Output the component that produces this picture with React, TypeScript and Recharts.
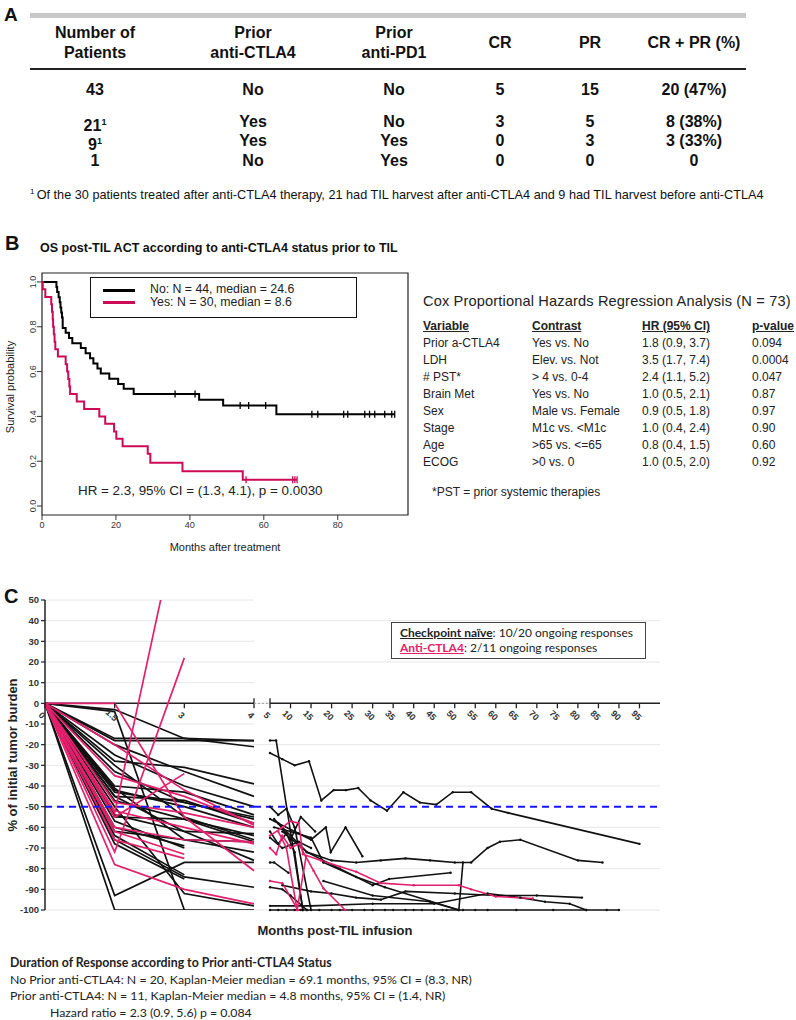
import React from 'react';
import {
  ComposedChart,
  LineChart,
  Line,
  XAxis,
  YAxis,
  CartesianGrid,
  ReferenceLine,
  ReferenceArea,
  ReferenceDot,
} from 'recharts';

// ── Panel A: response table ───────────────────────────────────────────────
const tableHeaders = [['Number of', 'Patients'], ['Prior', 'anti-CTLA4'], ['Prior', 'anti-PD1'], ['CR'], ['PR'], ['CR + PR (%)']];
const patientCounts = ['43', '21', '9', '1'];
const patientFootnoted = [false, true, true, false];
const priorCTLA4 = ['No', 'Yes', 'Yes', 'No'];
const priorPD1 = ['No', 'No', 'Yes', 'Yes'];
const crCounts = ['5', '3', '0', '0'];
const prCounts = ['15', '5', '3', '0'];
const responseRates = ['20 (47%)', '8 (38%)', '3 (33%)', '0'];
const tableFootnote =
  'Of the 30 patients treated after anti-CTLA4 therapy, 21 had TIL harvest after anti-CTLA4 and 9 had TIL harvest before anti-CTLA4';

// ── Panel B: Kaplan-Meier OS ──────────────────────────────────────────────
const noEventTimes = [3.9, 4.1, 4.5, 4.8, 5.0, 5.2, 5.4, 5.6, 6.4, 7.3, 8.2, 10.5, 11.8, 13.0, 13.9, 15.0, 15.9, 18.2, 20.6, 22.1, 24.8, 42.5, 49.0, 63.4];
const noSurvival = [0.977, 0.955, 0.932, 0.909, 0.886, 0.864, 0.841, 0.795, 0.773, 0.75, 0.727, 0.705, 0.682, 0.659, 0.636, 0.614, 0.591, 0.568, 0.545, 0.523, 0.5, 0.474, 0.449, 0.41];
const noCensored = [36, 41.4, 53.6, 55.9, 60.5, 73, 74.6, 81.6, 82.7, 87.3, 88.6, 90, 92.7, 94.6, 95.4];

const yesEventTimes = [0.2, 0.9, 2.5, 2.7, 2.9, 3.0, 3.2, 3.4, 3.6, 4.3, 6.4, 6.8, 7.1, 7.4, 7.6, 9.4, 11.4, 15.5, 17.1, 19.5, 20.1, 21.8, 28.6, 29.3, 38.0, 54.3];
const yesSurvival = [0.967, 0.933, 0.9, 0.867, 0.833, 0.8, 0.767, 0.733, 0.7, 0.667, 0.633, 0.6, 0.567, 0.533, 0.5, 0.467, 0.433, 0.4, 0.367, 0.333, 0.3, 0.267, 0.233, 0.193, 0.155, 0.117];
const yesCensored = [55.2, 67.8, 68.4, 69];

const kmXTicks = [0, 20, 40, 60, 80];
const kmYTicks = [0, 0.2, 0.4, 0.6, 0.8, 1.0];

// Cox regression table
const coxVariables = ['Prior a-CTLA4', 'LDH', '# PST*', 'Brain Met', 'Sex', 'Stage', 'Age', 'ECOG'];
const coxContrasts = ['Yes vs. No', 'Elev. vs. Not', '> 4 vs. 0-4', 'Yes vs. No', 'Male vs. Female', 'M1c vs. <M1c', '>65 vs. <=65', '>0 vs. 0'];
const coxHR = ['1.8 (0.9, 3.7)', '3.5 (1.7, 7.4)', '2.4 (1.1, 5.2)', '1.0 (0.5, 2.1)', '0.9 (0.5, 1.8)', '1.0 (0.4, 2.4)', '0.8 (0.4, 1.5)', '1.0 (0.5, 2.0)'];
const coxP = ['0.094', '0.0004', '0.047', '0.87', '0.97', '0.90', '0.60', '0.92'];

// ── Panel C: spider plot ──────────────────────────────────────────────────
// early visits (0, 1.5, 3, 4 months), equally spaced
const earlyLabels = ['0', '1.5', '3', '4'];
const naiveEarly: (number | null)[][] = [
  [0, -3, -17, -18],
  [0, -18, -18, -18],
  [0, -17, -17, -21],
  [0, -28, -31, -39],
  [0, -20, -33, -45],
  [0, -4, -100, null],
  [0, -40, -43, -54],
  [0, -45, -47, -58],
  [0, -42, -50, -60],
  [0, -47, -56, -64],
  [0, -55, -56, -67],
  [0, -30, -55, -66],
  [0, -62, -66, -67],
  [0, -60, -69, null],
  [0, -57, -70, null],
  [0, -93, -77, -77],
  [0, -66, -84, -89],
  [0, -68, -85, null],
  [0, -64, -83, null],
  [0, -100, -100, -100],
  [0, -50, -92, -98],
  [0, -45, -62, -76],
  [0, -25, -40, -50],
  [0, -54, -62, -63],
  [0, -43, -48, -56],
  [0, -33, -48, -55],
  [0, -41, -66, -72],
];
const ctla4Early: (number | null)[][] = [
  [0, -53, 103, null],
  [0, -72, 22, null],
  [0, -55, -34, null],
  [0, 0, -55, -81],
  [0, -20, -42, -59],
  [0, -48, -53, -60],
  [0, -60, -66, -67],
  [0, -62, -73, null],
  [0, -66, -75, null],
  [0, -78, -90, -97],
  [0, -35, -45, -58],
  [0, -52, -60, -68],
];

// later follow-up, [months, % change]
const naiveLate: number[][][] = [
  [[5, -24], [8, -27], [11, -30], [14.5, -28], [17.5, -47], [20.5, -42], [23.5, -42], [26.5, -41], [29.5, -47], [33.5, -52], [37.5, -43], [41.5, -48], [45.5, -49], [49.5, -43], [54, -43], [59, -51], [63, -53], [95, -68]],
  [[5, -18], [6.5, -18], [13, -100]],
  [[6, -56], [10, -64], [14, -72], [20, -76], [26, -77], [32, -76], [38, -75], [44, -76], [50, -77], [54, -77], [58, -70], [61, -67], [66, -66], [80, -76], [86, -77]],
  [[7, -58], [12, -63], [15, -66], [18.6, -60], [19.8, -72], [23.4, -60], [27.5, -74]],
  [[6, -60], [10, -62], [15, -65], [18, -77], [26, -84], [33, -89], [51, -100]],
  [[8, -62], [14, -72], [22, -80], [30, -88], [34, -85], [49, -82]],
  [[8, -88], [15, -91], [20, -92], [26, -94], [32, -95], [38, -91], [50, -92], [60, -93], [70, -93], [81, -94]],
  [[5, -98], [15, -98], [30, -97], [45, -97], [58, -92], [66, -94], [72, -96], [78, -97], [82, -100]],
  [[5, -100], [7, -100], [9, -100], [11, -100], [12.5, -100], [14, -100], [17, -100], [20, -100], [22, -100], [25, -100], [28, -100], [30, -100], [33, -100], [35, -100], [38, -100], [40, -100], [42, -100], [45, -100], [47, -100], [48, -100], [52, -100], [55, -100], [58, -100], [65, -100], [74, -100], [82, -100], [87, -100], [90, -100]],
  [[5, -50], [7, -54], [9, -51], [11, -60], [15, -100]],
  [[5, -62], [7, -68], [9, -63], [11, -72], [13, -100]],
  [[5, -77], [6, -77], [9.5, -82]],
  [[5, -89], [8, -90], [10, -93], [14, -100]],
  [[18, -86], [30, -93], [44, -96], [51, -100], [52, -77]],
  [[5, -65], [8, -70], [12, -67], [15, -70]],
  [[5, -56], [7, -58], [10, -66], [12.5, -55], [16, -62]],
];
const ctla4Late: number[][][] = [
  [[5, -64], [8, -60], [10, -57], [12, -58], [13, -73], [17.4, -76], [22, -79], [26, -81.5], [32, -87], [40, -88], [51, -88], [54, -90], [60, -93.5], [69, -94.4]],
  [[5, -70], [6.5, -73], [8, -64], [10, -70], [12, -68], [15.6, -81], [18, -89.5], [23.3, -100]],
  [[5, -86], [8, -87], [11.8, -100]],
  [[7, -62], [9, -70], [11.6, -100], [13.8, -74]],
];
const lateTicks = [5, 10, 15, 20, 25, 30, 35, 40, 45, 50, 55, 60, 65, 70, 75, 80, 85, 90, 95];
const spiderYTicks = [50, 40, 30, 20, 10, 0, -10, -20, -30, -40, -50, -60, -70, -80, -90, -100];

const BLACK = '#111111';
const RED = '#e3206c';
const KM_RED = '#cc0a55';
const BLUE = '#1717ff';
const ARIAL = "'Liberation Sans', Arial, sans-serif";
const CALIBRI = "Lato, 'Open Sans', sans-serif";

function kmSeries(times: number[], surv: number[], censored: number[]) {
  const pts = [{ t: 0, s: 1, c: false }];
  times.forEach((t, i) => pts.push({ t, s: surv[i], c: false }));
  censored.forEach((t) => {
    let s = 1;
    times.forEach((et, i) => {
      if (et <= t) s = surv[i];
    });
    pts.push({ t, s, c: true });
  });
  return pts.sort((a, b) => a.t - b.t);
}

const censorDot = (color: string) => (props: any) => {
  const { cx, cy, payload, index } = props;
  if (!payload || !payload.c) return <g key={`d-${index}`} />;
  return <line key={`d-${index}`} x1={cx} x2={cx} y1={cy - 3.5} y2={cy + 3.5} stroke={color} strokeWidth={1.3} />;
};

const KmYTick = (props: any) => {
  const { x, y, payload } = props;
  return (
    <text x={x + 1} y={y} textAnchor="middle" fontSize={9} fill="#333" transform={`rotate(-90 ${x + 1} ${y})`}>
      {Number(payload.value).toFixed(1)}
    </text>
  );
};

const axisTick = (label: string, tall: boolean) => (props: any) => {
  const { cx, cy } = props;
  const tx = cx - 3;
  const ty = cy + 12;
  return (
    <g>
      <line x1={cx} x2={cx} y1={tall ? cy - 5 : cy} y2={cy + 5} stroke="#222" strokeWidth={1.3} />
      <text
        x={tx}
        y={ty}
        textAnchor="middle"
        dominantBaseline="central"
        fontSize={9}
        fontWeight="bold"
        fill="#333"
        transform={`rotate(45 ${tx} ${ty})`}
      >
        {label}
      </text>
    </g>
  );
};

const toEarly = (vals: (number | null)[]) =>
  vals.map((v, i) => ({ x: i, y: v })).filter((p) => p.y !== null);
const toLate = (pts: number[][]) => pts.map(([x, y]) => ({ x, y }));

const abs = (left: number, top: number, extra: React.CSSProperties = {}): React.CSSProperties => ({
  position: 'absolute',
  left,
  top,
  whiteSpace: 'nowrap',
  ...extra,
});

export default function App() {
  const noData = kmSeries(noEventTimes, noSurvival, noCensored);
  const yesData = kmSeries(yesEventTimes, yesSurvival, yesCensored);
  const colX = [95, 253, 394, 500, 590, 694];
  const rowY = [90, 122, 141, 161];
  const rowCells = patientCounts.map((n, i) => [n, priorCTLA4[i], priorPD1[i], crCounts[i], prCounts[i], responseRates[i]]);
  const coxCols = [423, 532, 642, 752];

  return (
    <div style={{ position: 'absolute', left: 0, top: 0, width: 796, height: 1020, background: '#fff', fontFamily: ARIAL, color: '#111', overflow: 'hidden' }}>
      <style>{`.recharts-surface{overflow:visible}`}</style>
      {/* ── Panel A ── */}
      <div style={abs(4, 4, { fontSize: 19, fontWeight: 'bold' })}>A</div>
      <div style={abs(30, 13, { width: 716, height: 5, background: '#c8c8c8' })} />
      {tableHeaders.map((h, i) => (
        <div
          key={`h${i}`}
          style={abs(colX[i], h.length === 2 ? 23 : 33, {
            transform: 'translateX(-50%)',
            textAlign: 'center',
            fontWeight: 'bold',
            fontSize: 16,
            lineHeight: '20px',
          })}
        >
          {h.map((line, j) => (
            <div key={j}>{line}</div>
          ))}
        </div>
      ))}
      <div style={abs(30, 68, { width: 716, height: 2, background: '#222' })} />
      {rowCells.map((cells, r) =>
        cells.map((c, i) => (
          <div
            key={`c${r}-${i}`}
            style={abs(colX[i], rowY[r] - 10, {
              transform: 'translateX(-50%)',
              fontWeight: 'bold',
              fontSize: 16,
              lineHeight: '20px',
            })}
          >
            {c}
            {i === 0 && patientFootnoted[r] ? <sup style={{ fontSize: 9 }}>1</sup> : null}
          </div>
        ))
      )}
      <div style={abs(30, 184, { fontSize: 12.7, lineHeight: '16px' })}>
        <sup style={{ fontSize: 8 }}>1 </sup>
        {tableFootnote}
      </div>

      {/* ── Panel B ── */}
      <div style={abs(5, 232, { fontSize: 20, fontWeight: 'bold' })}>B</div>
      <div style={abs(40, 241, { fontSize: 12.5, fontWeight: 'bold' })}>
        OS post-TIL ACT according to anti-CTLA4 status prior to TIL
      </div>
      <div style={abs(0, 260)}>
        <ComposedChart width={420} height={290} margin={{ top: 13, right: 12, bottom: 5, left: 0 }}>
          <XAxis
            type="number"
            dataKey="t"
            domain={[0, 99]}
            ticks={kmXTicks}
            allowDataOverflow
            axisLine={false}
            tickLine={{ stroke: '#333' }}
            tickSize={5}
            height={30}
            tick={{ fontSize: 9, fill: '#333' }}
          />
          <YAxis
            type="number"
            domain={[-0.04, 1.04]}
            ticks={kmYTicks}
            allowDataOverflow
            width={42}
            axisLine={false}
            tickLine={{ stroke: '#333' }}
            tickSize={5}
            tick={<KmYTick />}
          />
          <ReferenceArea x1={0} x2={99} y1={-0.04} y2={1.04} fill="none" stroke="#222" strokeWidth={1.2} ifOverflow="visible" />
          <Line data={noData} dataKey="s" type="stepAfter" stroke="#000" strokeWidth={2} dot={censorDot('#000')} activeDot={false} isAnimationActive={false} />
          <Line data={yesData} dataKey="s" type="stepAfter" stroke={KM_RED} strokeWidth={2} dot={censorDot(KM_RED)} activeDot={false} isAnimationActive={false} />
        </ComposedChart>
      </div>
      <div style={abs(10, 387, { transform: 'translate(-50%, -50%) rotate(-90deg)', fontSize: 11, color: '#222' })}>
        Survival probability
      </div>
      <div style={abs(225, 547, { transform: 'translate(-50%, -50%)', fontSize: 11, color: '#222' })}>
        Months after treatment
      </div>
      <div style={abs(90, 277, { width: 267, height: 41, border: '1.2px solid #111', boxSizing: 'border-box', background: '#fff' })}>
        <div style={abs(12, 11, { width: 32, height: 3, background: '#000' })} />
        <div style={abs(12, 23, { width: 32, height: 3, background: KM_RED })} />
        <div style={abs(59, 4, { fontSize: 12.3, color: '#222' })}>No: N = 44, median = 24.6</div>
        <div style={abs(59, 17, { fontSize: 12.3, color: '#222' })}>Yes: N = 30, median = 8.6</div>
      </div>
      <div style={abs(78, 483, { fontSize: 13.4, color: '#222' })}>HR = 2.3, 95% CI = (1.3, 4.1), p = 0.0030</div>

      {/* Cox table */}
      <div style={abs(423, 293, { fontSize: 14.6, letterSpacing: 0.15, color: '#222' })}>Cox Proportional Hazards Regression Analysis (N = 73)</div>
      {['Variable', 'Contrast', 'HR (95% CI)', 'p-value'].map((h, i) => (
        <div key={`ch${i}`} style={abs(coxCols[i], 319, { fontSize: 12, fontWeight: 'bold', textDecoration: 'underline', color: '#222' })}>
          {h}
        </div>
      ))}
      {coxVariables.map((v, r) => (
        <React.Fragment key={`cr${r}`}>
          {[v, coxContrasts[r], coxHR[r], coxP[r]].map((c, i) => (
            <div key={i} style={abs(coxCols[i], 336 + r * 17, { fontSize: 12, color: '#222' })}>
              {c}
            </div>
          ))}
        </React.Fragment>
      ))}
      <div style={abs(432, 485, { fontSize: 12, color: '#222' })}>*PST = prior systemic therapies</div>

      {/* ── Panel C ── */}
      <div style={abs(4, 585, { fontSize: 20, fontWeight: 'bold' })}>C</div>
      <div style={abs(12, 755, { transform: 'translate(-50%, -50%) rotate(-90deg)', fontSize: 13, fontWeight: 'bold', color: '#222' })}>
        % of initial tumor burden
      </div>
      <div style={abs(0, 590)}>
        <LineChart width={254} height={330} margin={{ top: 10, right: 0, bottom: 10, left: 0 }}>
          <CartesianGrid horizontal vertical={false} stroke="#e6e6e6" horizontalValues={spiderYTicks} />
          <XAxis type="number" dataKey="x" domain={[0, 3]} hide />
          <YAxis
            type="number"
            domain={[-100, 50]}
            ticks={spiderYTicks}
            interval={0}
            allowDataOverflow
            width={45}
            axisLine={{ stroke: '#222', strokeWidth: 1.5 }}
            tickLine={{ stroke: '#222', strokeWidth: 1.2 }}
            tickSize={4}
            tick={{ fontSize: 9.5, fontWeight: 'bold', fill: '#333' }}
          />
          <ReferenceLine y={0} stroke="#222" strokeWidth={1.5} />
          {naiveEarly.map((vals, i) => (
            <Line key={`ne${i}`} data={toEarly(vals)} dataKey="y" type="linear" stroke={BLACK} strokeWidth={1.7} dot={false} activeDot={false} isAnimationActive={false} />
          ))}
          {ctla4Early.map((vals, i) => (
            <Line key={`ce${i}`} data={toEarly(vals)} dataKey="y" type="linear" stroke={RED} strokeWidth={1.7} dot={false} activeDot={false} isAnimationActive={false} />
          ))}
          <ReferenceLine y={-50} stroke={BLUE} strokeWidth={2} strokeDasharray="7 5" />
          {earlyLabels.map((lab, i) => (
            <ReferenceDot key={`et${i}`} x={i} y={0} r={0} ifOverflow="visible" shape={axisTick(lab, i === 3)} />
          ))}
        </LineChart>
      </div>
      <div style={abs(254, 590)}>
        <LineChart width={436} height={330} margin={{ top: 10, right: 30, bottom: 10, left: 0 }}>
          <CartesianGrid horizontal vertical={false} stroke="#e6e6e6" horizontalValues={spiderYTicks} />
          <XAxis type="number" dataKey="x" domain={[1.1, 100]} hide />
          <YAxis type="number" domain={[-100, 50]} ticks={spiderYTicks} hide />
          <ReferenceLine segment={[{ x: 1.1, y: 0 }, { x: 5, y: 0 }]} stroke="#999" strokeWidth={1} strokeDasharray="2 2" />
          <ReferenceLine segment={[{ x: 5, y: 0 }, { x: 100, y: 0 }]} stroke="#222" strokeWidth={1.5} />
          {naiveLate.map((pts, i) => (
            <Line key={`nl${i}`} data={toLate(pts)} dataKey="y" type="linear" stroke={BLACK} strokeWidth={1.6} dot={{ r: 1.2, fill: BLACK, stroke: 'none' }} activeDot={false} isAnimationActive={false} />
          ))}
          {ctla4Late.map((pts, i) => (
            <Line key={`cl${i}`} data={toLate(pts)} dataKey="y" type="linear" stroke={RED} strokeWidth={1.6} dot={{ r: 1.2, fill: RED, stroke: 'none' }} activeDot={false} isAnimationActive={false} />
          ))}
          <ReferenceLine y={-50} stroke={BLUE} strokeWidth={2} strokeDasharray="7 5" />
          {lateTicks.map((t) => (
            <ReferenceDot key={`lt${t}`} x={t} y={0} r={0} ifOverflow="visible" shape={axisTick(String(t), t === 5)} />
          ))}
        </LineChart>
      </div>
      <div style={abs(391, 622, { width: 255, height: 37, border: '1.5px solid #444', boxSizing: 'border-box', background: '#fff', fontFamily: CALIBRI, fontSize: 12, lineHeight: '15px', padding: '2px 0 0 8px', color: '#222' })}>
        <div>
          <span style={{ fontWeight: 'bold', textDecoration: 'underline' }}>Checkpoint naïve</span>: 10/20 ongoing responses
        </div>
        <div>
          <span style={{ fontWeight: 'bold', textDecoration: 'underline', color: RED }}>Anti-CTLA4</span>: 2/11 ongoing responses
        </div>
      </div>
      <div style={abs(335, 930, { transform: 'translate(-50%, -50%)', fontSize: 13, fontWeight: 'bold', color: '#222' })}>
        Months post-TIL infusion
      </div>

      {/* footer */}
      <div style={abs(10, 955, { fontFamily: CALIBRI, fontSize: 12.3, lineHeight: '16.5px', color: '#222' })}>
        <div style={{ fontWeight: 'bold' }}>Duration of Response according to Prior anti-CTLA4 Status</div>
        <div>No Prior anti-CTLA4: N = 20, Kaplan-Meier median = 69.1 months, 95% CI = (8.3, NR)</div>
        <div>Prior anti-CTLA4: N = 11, Kaplan-Meier median = 4.8 months, 95% CI = (1.4, NR)</div>
        <div style={{ paddingLeft: 40 }}>Hazard ratio = 2.3 (0.9, 5.6) p = 0.084</div>
      </div>
    </div>
  );
}
